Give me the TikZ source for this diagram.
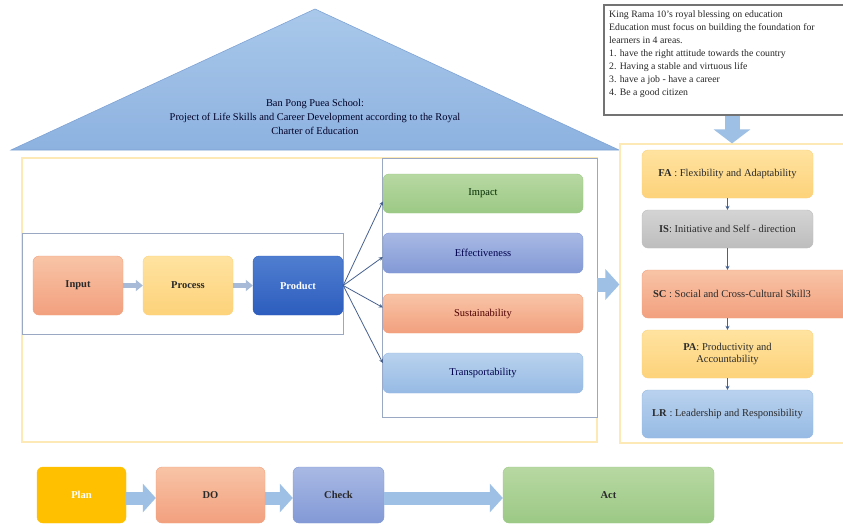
\documentclass[tikz,border=0pt]{standalone}
\usepackage{fontspec}
\setmainfont{Liberation Serif}
\usetikzlibrary{arrows.meta}
\definecolor{roofA}{HTML}{A9C8EA}
\definecolor{roofB}{HTML}{8DB2E0}
\definecolor{roofline}{HTML}{7EA3D6}
\definecolor{salmonA}{HTML}{F8C4A6}
\definecolor{salmonB}{HTML}{F2A07E}
\definecolor{yelA}{HTML}{FFE3A0}
\definecolor{yelB}{HTML}{FDD27A}
\definecolor{prodA}{HTML}{4F7ED0}
\definecolor{prodB}{HTML}{2D5DBE}
\definecolor{grnA}{HTML}{B7D8A2}
\definecolor{grnB}{HTML}{9CC985}
\definecolor{purA}{HTML}{A9B9E4}
\definecolor{purB}{HTML}{8299D6}
\definecolor{ltbA}{HTML}{B9D2EE}
\definecolor{ltbB}{HTML}{96BAE4}
\definecolor{grayA}{HTML}{D4D4D4}
\definecolor{grayB}{HTML}{BDBDBD}
\definecolor{planc}{HTML}{FFC000}
\definecolor{frameY}{HTML}{FCE9B5}
\definecolor{frameG}{HTML}{9AA8C4}
\definecolor{barrow}{HTML}{9DC0E4}
\definecolor{sarrow}{HTML}{A7BAD8}
\definecolor{conn}{HTML}{46618F}
\definecolor{txtdark}{HTML}{2A2A2A}
\tikzset{
  pbox/.style={rounded corners=6pt, inner sep=2pt, font=\fontsize{10.5}{12.5}\selectfont, text=txtdark},
  boldlabel/.style={font=\fontsize{10.5}{12.5}\selectfont\bfseries},
  frameyel/.style={draw=frameY, line width=1.2pt, inner sep=0pt},
  framegray/.style={draw=frameG, line width=0.9pt, inner sep=0pt},
  blockarrow/.style={barrow, line width=13pt, -{Triangle[length=13pt,width=28pt]}},
  smallarrow/.style={sarrow, line width=4.5pt, -{Triangle[length=7pt,width=11pt]}},
  thinarrow/.style={conn, line width=0.8pt, -{Stealth[length=4pt,width=4pt]}}
}
\begin{document}
\begin{tikzpicture}[x=1pt,y=-1pt]
\clip (0,0) rectangle (843,525);
\useasboundingbox (0,0) rectangle (843,525);
\fill[white] (0,0) rectangle (843,525);

% roof
\shade[top color=roofA, bottom color=roofB, draw=roofline, line width=0.6pt]
  (11,150) -- (315,9) -- (619,150) -- cycle;
\node[font=\fontsize{10.4}{14}\selectfont, text=black!85!blue, align=center] (roof) at (315,117)
  {Ban Pong Puea School:\\Project of Life Skills and Career Development according to the Royal\\Charter of Education};

% text box
\node[draw=black!55, line width=1.2pt, fill=white, minimum width=246pt, minimum height=110pt, inner sep=0pt] (tbox) at (727,60) {};
\node[anchor=north west, align=left, font=\fontsize{9.8}{13}\selectfont, text=black!85, inner sep=0pt] (tboxtext) at (609,10)
  {King Rama 10's royal blessing on education\\
   Education must focus on building the foundation for\\
   learners in 4 areas.\\
   1. have the right attitude towards the country\\
   2. Having a stable and virtuous life\\
   3. have a job - have a career\\
   4. Be a good citizen};

% frames
\node[frameyel, minimum width=575pt, minimum height=284pt] (lframe) at (309.5,300) {};
\node[framegray, fill=white, minimum width=321pt, minimum height=101pt] (ipbox) at (182.5,283.5) {};
\node[framegray, fill=white, minimum width=215pt, minimum height=259pt] (obox) at (489.5,287.5) {};
\node[frameyel, minimum width=232pt, minimum height=299pt] (rframe) at (736,293.5) {};

% input process product
\node[pbox, boldlabel, top color=salmonA, bottom color=salmonB, draw=salmonB, minimum width=90pt, minimum height=59pt] (input) at (78,285.5) {Input};
\node[pbox, boldlabel, top color=yelA, bottom color=yelB, draw=yelB, minimum width=90pt, minimum height=59pt] (process) at (188,285.5) {Process};
\node[pbox, boldlabel, top color=prodA, bottom color=prodB, draw=prodB, minimum width=90pt, minimum height=59pt, text=white] (product) at (298,285.5) {Product};
\draw[smallarrow] (input.east) -- (process.west);
\draw[smallarrow] (process.east) -- (product.west);

% outcomes
\node[pbox, top color=grnA, bottom color=grnB, draw=grnB, minimum width=200pt, minimum height=39pt, text=black!60!green!40!black] (impact) at (483,193.5) {Impact};
\node[pbox, top color=purA, bottom color=purB, draw=purB, minimum width=200pt, minimum height=40pt, text=blue!30!black] (effect) at (483,253) {Effectiveness};
\node[pbox, top color=salmonA, bottom color=salmonB, draw=salmonB, minimum width=200pt, minimum height=39pt, text=red!30!black] (sustain) at (483,313.5) {Sustainability};
\node[pbox, top color=ltbA, bottom color=ltbB, draw=ltbB, minimum width=200pt, minimum height=40pt, text=blue!30!black] (transp) at (483,373) {Transportability};
\draw[thinarrow] (product.east) -- ([yshift=-8pt]impact.west);
\draw[thinarrow] (product.east) -- ([yshift=-4pt]effect.west);
\draw[thinarrow] (product.east) -- ([yshift=6pt]sustain.west);
\draw[thinarrow] (product.east) -- ([yshift=10pt]transp.west);

% big arrows
\draw[barrow, line width=14pt, -{Triangle[length=14pt,width=30pt]}] ([yshift=3pt]obox.east) -- ([yshift=3pt]obox.east -| rframe.west);
\draw[barrow, line width=15pt, -{Triangle[length=14pt,width=36pt]}] ([xshift=5pt]tbox.south) -- ([xshift=5pt]tbox.south |- rframe.north);

% skills
\node[pbox, top color=yelA, bottom color=yelB, draw=yelB, minimum width=171pt, minimum height=48pt] (fa) at (727.5,174) {\textbf{FA} : Flexibility and Adaptability};
\node[pbox, top color=grayA, bottom color=grayB, draw=grayB, minimum width=171pt, minimum height=38pt] (is) at (727.5,229) {\textbf{IS}: Initiative and Self - direction};
\node[pbox, top color=salmonA, bottom color=salmonB, draw=salmonB, minimum width=210pt, minimum height=48pt] (sc) at (747,294) {\textbf{SC} : Social and Cross-Cultural Skill3\hspace*{30pt}};
\node[pbox, top color=yelA, bottom color=yelB, draw=yelB, minimum width=171pt, minimum height=48pt, align=center] (pa) at (727.5,354) {\textbf{PA}: Productivity and\\Accountability};
\node[pbox, top color=ltbA, bottom color=ltbB, draw=ltbB, minimum width=171pt, minimum height=48pt] (lr) at (727.5,414) {\textbf{LR} : Leadership and Responsibility};
\draw[thinarrow] (fa.south) -- (is.north);
\draw[thinarrow] ([xshift=-19.5pt]sc.north |- is.south) -- ([xshift=-19.5pt]sc.north);
\draw[thinarrow] ([xshift=-19.5pt]sc.south) -- (pa.north);
\draw[thinarrow] (pa.south) -- (lr.north);

% PDCA
\node[pbox, boldlabel, fill=planc, draw=planc, minimum width=89pt, minimum height=56pt, text=white] (plan) at (81.5,495) {Plan};
\node[pbox, boldlabel, top color=salmonA, bottom color=salmonB, draw=salmonB, minimum width=109pt, minimum height=56pt] (do) at (210.5,495) {DO};
\node[pbox, boldlabel, top color=purA, bottom color=purB, draw=purB, minimum width=91pt, minimum height=56pt] (check) at (338.5,495) {Check};
\node[pbox, boldlabel, top color=grnA, bottom color=grnB, draw=grnB, minimum width=211pt, minimum height=56pt] (act) at (608.5,495) {Act};
\draw[blockarrow] ([yshift=-3pt]plan.east) -- ([yshift=-3pt]do.west);
\draw[blockarrow] ([yshift=-3pt]do.east) -- ([yshift=-3pt]check.west);
\draw[blockarrow] ([yshift=-3pt]check.east) -- ([yshift=-3pt]act.west);
\end{tikzpicture}
\end{document}
